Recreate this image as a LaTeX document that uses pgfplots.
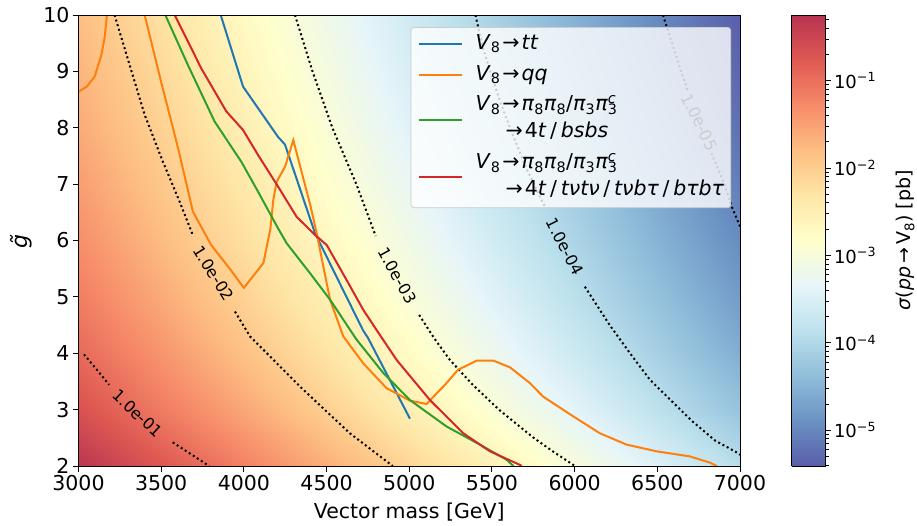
\documentclass[border=0pt]{standalone}
\usepackage{fontspec}
\setmainfont{DejaVu Sans}
\usepackage{pgfplots}
\pgfplotsset{compat=1.18}

\definecolor{tabblue}{HTML}{1F77B4}
\definecolor{taborange}{HTML}{FF7F0E}
\definecolor{tabgreen}{HTML}{2CA02C}
\definecolor{tabred}{HTML}{D62728}

\pgfplotsset{
  cline/.style={black, line width=2pt, dash pattern=on 2pt off 2.8pt, forget plot},
}
\tikzset{clabel/.style={font=\fontsize{16}{19}\selectfont, inner sep=0pt}}

\newcommand\arr{\hspace{0.1em}→\hspace{0.1em}}
\newcommand\slh{\hspace{0.18em}/\hspace{0.18em}}
\newcommand\pipi{\textit{π}\textsubscript{8}\textit{π}\textsubscript{8}/\textit{π}\textsubscript{3}\textit{π}\rlap{\textsuperscript{\textit{c}}}\textsubscript{3}}

\begin{document}
\begin{tikzpicture}
\begin{axis}[
  name=main,
  scale only axis, width=661.5pt, height=451pt,
  xmin=3000, xmax=7000, ymin=2, ymax=10,
  xtick={3000,3500,...,7000}, ytick={2,3,...,10},
  tick pos=left, tick align=outside, major tick length=5.5pt,
  axis on top,
  axis line style={black, line width=0.9pt},
  every tick/.append style={black, line width=0.9pt},
  /pgf/number format/1000 sep={},
  /pgf/number format/assume math mode=true,
  every tick label/.append style={font=\fontsize{20.5}{24}\selectfont},
  xlabel={Vector mass [GeV]}, ylabel={\textit{g̃}},
  every axis x label/.style={at={(axis description cs:0.5,-0.102)}, anchor=center, font=\fontsize{20.5}{24}\selectfont},
  every axis y label/.style={at={(axis description cs:-0.087,0.5)}, anchor=center, rotate=90, font=\fontsize{22}{24}\selectfont},
  colormap={rdylbu}{rgb255=(90,94,170) rgb255=(106,145,195) rgb255=(144,189,218) rgb255=(188,225,237) rgb255=(230,245,249) rgb255=(255,255,204) rgb255=(254,230,166) rgb255=(253,190,129) rgb255=(246,138,105) rgb255=(223,89,82) rgb255=(183,51,81)},
  point meta min=-5.41, point meta max=-0.25,
  colorbar sampled={surf, mark=none, shader=interp},
  colorbar shift/.style={},
  colorbar style={
    samples=11,
    at={(parent axis.north east)}, anchor=north west, xshift=51.5pt,
    scale only axis, width=34pt, height=451pt,
    axis line style={black, line width=0.9pt},
    ytick={-5,-4,-3,-2,-1},
    yticklabels={10\textsuperscript{−5},10\textsuperscript{−4},10\textsuperscript{−3},10\textsuperscript{−2},10\textsuperscript{−1}},
    minor ytick={-5.398,-5.301,-5.222,-5.155,-5.097,-5.046,
      -4.699,-4.523,-4.398,-4.301,-4.222,-4.155,-4.097,-4.046,
      -3.699,-3.523,-3.398,-3.301,-3.222,-3.155,-3.097,-3.046,
      -2.699,-2.523,-2.398,-2.301,-2.222,-2.155,-2.097,-2.046,
      -1.699,-1.523,-1.398,-1.301,-1.222,-1.155,-1.097,-1.046,
      -0.699,-0.523,-0.398,-0.301},
    ytick pos=right, yticklabel pos=right, tick align=outside,
    major tick length=5pt, minor tick length=3pt,
    every tick/.append style={black, line width=0.9pt},
    every minor tick/.append style={black, line width=0.6pt},
    yticklabel style={font=\fontsize{18}{21}\selectfont},
    ylabel={\textit{σ}(\textit{pp}\,→\,V\textsubscript{8}) [pb]},
    every axis y label/.style={at={(axis description cs:3.35,0.5)}, anchor=center, rotate=90, font=\fontsize{19}{22}\selectfont},
  },
  legend style={
    at={(1,1)}, anchor=north east, xshift=-9pt, yshift=-12pt,
    draw=black!20, line width=0.8pt, rounded corners=3pt,
    fill=white, fill opacity=0.8, draw opacity=1, text opacity=1,
    inner xsep=6.5pt, inner ysep=4.5pt,
    row sep=6.3pt, column sep=13pt,
    nodes={inner sep=0pt, text opacity=1, text depth=, text height=},
    font=\fontsize{20.5}{24.6}\selectfont,
  },
  legend cell align=left,
  legend image code/.code={\draw[#1, line width=2pt] (0pt,0pt) -- (43pt,0pt);},
]

% cross-section map, log10(sigma/pb)
\addplot[surf, shader=interp, mesh/rows=9, mesh/cols=9, point meta=\thisrow{z}, forget plot] table {
x y z
3000 2 -0.29
3500 2 -0.74
4000 2 -1.19
4500 2 -1.64
5000 2 -2.10
5500 2 -2.55
6000 2 -3.00
6500 2 -3.45
7000 2 -3.91
3000 3 -0.67
3500 3 -1.12
4000 3 -1.57
4500 3 -2.03
5000 3 -2.48
5500 3 -2.93
6000 3 -3.38
6500 3 -3.84
7000 3 -4.29
3000 4 -0.94
3500 4 -1.39
4000 4 -1.85
4500 4 -2.30
5000 4 -2.75
5500 4 -3.20
6000 4 -3.66
6500 4 -4.11
7000 4 -4.56
3000 5 -1.15
3500 5 -1.60
4000 5 -2.06
4500 5 -2.51
5000 5 -2.96
5500 5 -3.41
6000 5 -3.87
6500 5 -4.32
7000 5 -4.77
3000 6 -1.32
3500 6 -1.78
4000 6 -2.23
4500 6 -2.68
5000 6 -3.13
5500 6 -3.59
6000 6 -4.04
6500 6 -4.49
7000 6 -4.94
3000 7 -1.47
3500 7 -1.92
4000 7 -2.37
4500 7 -2.83
5000 7 -3.28
5500 7 -3.73
6000 7 -4.18
6500 7 -4.64
7000 7 -5.09
3000 8 -1.60
3500 8 -2.05
4000 8 -2.50
4500 8 -2.95
5000 8 -3.41
5500 8 -3.86
6000 8 -4.31
6500 8 -4.76
7000 8 -5.22
3000 9 -1.71
3500 9 -2.16
4000 9 -2.61
4500 9 -3.06
5000 9 -3.52
5500 9 -3.97
6000 9 -4.42
6500 9 -4.87
7000 9 -5.33
3000 10 -1.81
3500 10 -2.26
4000 10 -2.71
4500 10 -3.16
5000 10 -3.62
5500 10 -4.07
6000 10 -4.52
6500 10 -4.97
7000 10 -5.43
};

% iso-cross-section contours
\addplot[cline] coordinates {(3033,3.98) (3113,3.70) (3185,3.44)};
\addplot[cline] coordinates {(3570,2.42) (3685,2.20) (3790,2.00)};
\addplot[cline] coordinates {(3218,10) (3290,9.3) (3400,8.23) (3510,7.4) (3610,6.7) (3692,6.09)};
\addplot[cline] coordinates {(3946,4.74) (4037,4.30) (4190,3.85) (4339,3.41) (4488,3.00) (4641,2.58) (4775,2.28) (4900,2.00)};
\addplot[cline] coordinates {(4309,10) (4415,9) (4535,8) (4680,7) (4797,6.08)};
\addplot[cline] coordinates {(5060,4.68) (5150,4.27) (5246,3.88) (5381,3.45) (5542,3.00) (5752,2.50) (5873,2.25) (6002,2.00)};
\addplot[cline] coordinates {(5400,10) (5446,9.41) (5545,8.5) (5609,8) (5705,7.3) (5820,6.6)};
\addplot[cline] coordinates {(6062,5.18) (6212,4.5) (6335,4.0) (6455,3.53) (6709,2.8) (6850,2.45) (6969,2.26) (7000,2.2)};
\addplot[cline] coordinates {(6534,10) (6600,9.4) (6644,9) (6685,8.65)};
\addplot[cline] coordinates {(6827,7.55) (6906,7.0) (6950,6.6) (7000,6.25)};

\node[clabel, rotate=-43] at (axis cs:3357,2.93) {1.0e-01};
\node[clabel, rotate=-58] at (axis cs:3817,5.42) {1.0e-02};
\node[clabel, rotate=-61] at (axis cs:4929,5.38) {1.0e-03};
\node[clabel, rotate=-63] at (axis cs:5941,5.89) {1.0e-04};
\node[clabel, rotate=-64] at (axis cs:6756,8.1) {1.0e-05};

% exclusion curves
\addplot[tabblue, line width=2pt] coordinates {
(3860,10) (3995,8.73) (4206,7.84) (4249,7.70) (4430,6.13) (4720,4.41) (4751,4.27) (5004,2.84)};
\addlegendentry{\begin{tabular}{@{}l@{}}\textit{V}\textsubscript{8}\arr\textit{tt}\end{tabular}}

\addplot[taborange, line width=2pt] coordinates {
(3400,10) (3499,8.82) (3602,7.64) (3692,6.51) (3802,5.92) (3917,5.49) (4000,5.16)
(4118,5.60) (4160,6.20) (4178,6.72) (4198,7.04) (4249,7.31) (4299,7.78)
(4404,6.60) (4440,6.13) (4521,4.95) (4601,4.30) (4722,3.82) (4863,3.38)
(5004,3.16) (5105,3.10) (5166,3.29) (5216,3.44) (5296,3.71) (5347,3.78)
(5407,3.87) (5508,3.87) (5609,3.75) (5730,3.47) (5810,3.23) (5992,2.88)
(6153,2.58) (6314,2.38) (6496,2.26) (6697,2.17) (6818,2.06) (6859,2.0)};
\addlegendentry{\begin{tabular}{@{}l@{}}\textit{V}\textsubscript{8}\arr\textit{qq}\end{tabular}}

\addplot[tabgreen, line width=2pt] coordinates {
(3525,10) (3662,9.11) (3823,8.11) (3984,7.40) (4085,6.87) (4206,6.22) (4259,5.95)
(4400,5.42) (4521,4.95) (4682,4.24) (4843,3.65) (5004,3.17) (5226,2.70)
(5427,2.38) (5589,2.11) (5630,2.0)};
\addlegendentry{\begin{tabular}{@{}l@{}}\textit{V}\textsubscript{8}\arr\pipi\\[2.4pt]\hspace*{30pt}→\hspace{0.1em}4\textit{t}\slh\textit{bsbs}\end{tabular}}

\addplot[tabred, line width=2pt] coordinates {
(3582,10) (3743,9.05) (3894,8.29) (3995,7.96) (4085,7.52) (4206,6.96) (4319,6.42)
(4430,6.10) (4501,5.92) (4621,5.30) (4722,4.77) (4803,4.41) (4924,3.88)
(5125,3.17) (5327,2.58) (5488,2.26) (5669,2.02) (5680,2.0)};
\addlegendentry{\begin{tabular}{@{}l@{}}\textit{V}\textsubscript{8}\arr\pipi\\[2.4pt]\hspace*{30pt}→\hspace{0.1em}4\textit{t}\slh\textit{tνtν}\slh\textit{tνbτ}\slh\textit{bτbτ}\end{tabular}}

% second branch of the qq curve
\addplot[taborange, line width=2pt, forget plot] coordinates {
(3000,8.64) (3050,8.73) (3098,8.91) (3138,9.29) (3158,9.6) (3172,10)};

\end{axis}
\pgfresetboundingbox
\path[use as bounding box] (main.south west) ++(-78.5pt,-59pt) rectangle ++(917pt,525pt);
\end{tikzpicture}
\end{document}
